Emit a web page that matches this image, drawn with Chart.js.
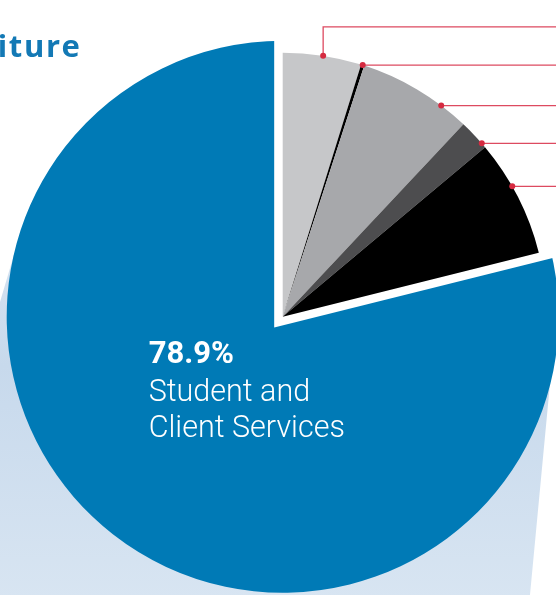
<!DOCTYPE html>
<html lang="en">
<head>
  <meta charset="UTF-8">
  <title>Expenditure</title>
  <script src="https://cdn.jsdelivr.net/npm/chart.js"></script>
  <style>
    html, body{margin: 0; padding: 0; width: 556px; height: 595px; overflow: hidden; background: #fff;}
    #wrap{position: absolute; left: 0; top: 0; width: 640px; height: 640px;}
    #title{position: absolute; right: 474.5px; top: 29.5px; z-index: 2; white-space: nowrap;
      font: 700 31px 'Open Sans', sans-serif; letter-spacing: 1.6px; line-height: 1; color: #1379b5;}
  </style>
</head>
<body>
  <div id="title">Expenditure</div>
  <div id="wrap"><canvas id="myChart"></canvas></div>
  <script>
    // slice order: clockwise from 12 o'clock
    const categories = ['Administration', 'Information Technology', 'Facilities', 'Amortization', 'Ancillary Services', 'Student and Client Services'];
    const values = [4.8, 0.2, 7.0, 1.9, 7.2, 78.9];
    const colors = ['#c6c7c9', '#000000', '#a7a8ab', '#4d4d4f', '#000000', '#007ab6'];
    const mainIdx = 5;

    function wrapWords(ctx, text, maxW){
      const words = text.split(' ');
      const lines = [];
      let cur = '';
      words.forEach(function(w){
        const test = cur ? cur + ' ' + w : w;
        if(cur && ctx.measureText(test).width > maxW){ lines.push(cur); cur = w; }
        else cur = test;
      });
      if(cur) lines.push(cur);
      return lines;
    }

    const pieDecor = {
      id: 'pieDecor',
      beforeDatasetsDraw(chart, args, opts){
        const meta = chart.getDatasetMeta(0);
        const main = meta.data[mainIdx];
        const cx = main.x, cy = main.y, R = main.outerRadius;
        // smaller slices sit a bit inside the big one
        meta.data.forEach(function(a, i){ if(i !== mainIdx) a.outerRadius = R * opts.minorScale; });

        // pale blue shadow behind the pie
        const ctx = chart.ctx;
        ctx.save();
        const g = ctx.createLinearGradient(0, cy - 0.25 * R, 0, chart.height);
        g.addColorStop(0, '#d6e3f1');
        g.addColorStop(0.3, '#c7d9ec');
        g.addColorStop(1, '#dbe7f3');
        ctx.fillStyle = g;
        ctx.beginPath();
        opts.shadow.forEach(function(p, k){
          const x = cx + p[0] * R, y = cy + p[1] * R;
          if(k) ctx.lineTo(x, y); else ctx.moveTo(x, y);
        });
        ctx.closePath();
        ctx.fill();
        ctx.restore();
      },
      afterDatasetsDraw(chart, args, opts){
        const ctx = chart.ctx;
        const meta = chart.getDatasetMeta(0);
        const main = meta.data[mainIdx];
        const minor = meta.data.filter(function(a, i){ return i !== mainIdx; });
        const cx = main.x, cy = main.y, R = main.outerRadius;

        // white gap between the big slice and the rest
        const a0 = minor[0].startAngle, a1 = minor[minor.length - 1].endAngle;
        const mid = (a0 + a1) / 2, half = (a1 - a0) / 2;
        const d = opts.gap / Math.sin(half);
        const ax = cx - Math.cos(mid) * d, ay = cy - Math.sin(mid) * d;
        ctx.save();
        ctx.fillStyle = '#fff';
        ctx.beginPath();
        ctx.moveTo(ax, ay);
        ctx.arc(ax, ay, R + 40, a0, a1);
        ctx.closePath();
        ctx.fill();
        ctx.restore();
        minor.forEach(function(a){ a.draw(ctx); });

        // leader lines (labels sit off to the right)
        ctx.save();
        ctx.strokeStyle = opts.lineColor;
        ctx.fillStyle = opts.dotColor;
        ctx.lineWidth = 1.3;
        minor.forEach(function(a, i){
          const t = a.startAngle + opts.anchors[i] * (a.endAngle - a.startAngle);
          const px = cx + Math.cos(t) * a.outerRadius;
          const py = cy + Math.sin(t) * a.outerRadius;
          ctx.beginPath();
          ctx.moveTo(px, py);
          if(i === 0){
            const ey = cy - R * opts.elbow;
            ctx.lineTo(px, ey);
            ctx.lineTo(chart.width, ey);
          } else {
            ctx.lineTo(chart.width, py);
          }
          ctx.stroke();
          ctx.beginPath();
          ctx.arc(px, py, 3, 0, Math.PI * 2);
          ctx.fill();
        });
        ctx.restore();

        // label inside the big slice
        ctx.save();
        ctx.fillStyle = '#fff';
        ctx.textAlign = 'left';
        ctx.textBaseline = 'alphabetic';
        const lx = cx + opts.labelDx, ly = cy + opts.labelDy;
        ctx.font = '700 31px Roboto';
        ctx.fillText(values[mainIdx].toFixed(1) + '%', lx, ly);
        ctx.font = '300 30.5px Roboto';
        wrapWords(ctx, categories[mainIdx], 210).forEach(function(line, k){
          ctx.fillText(line, lx, ly + 38 + k * 36);
        });
        ctx.restore();
      }
    };

    const ctx = document.getElementById('myChart');

    new Chart(ctx, {
      type: 'pie',
      data: {
        labels: categories,
        datasets: [{
          data: values,
          backgroundColor: colors,
          borderWidth: 0,
          hoverBorderWidth: 0,
          hoverOffset: 0
        }]
      },
      options: {
        responsive: true,
        maintainAspectRatio: false,
        animation: false,
        events: [],
        layout: {padding: {left: 6.7, top: 40.7, right: 81.3, bottom: 47.3}},
        plugins: {
          legend: {display: false},
          tooltip: {enabled: false},
          pieDecor: {
            minorScale: 264 / 276,
            gap: 8.5,
            anchors: [0.51, 0.5, 0.75, 0.84, 0.4],
            elbow: 1.05,
            lineColor: '#dd4a60',
            dotColor: '#d52a40',
            labelDx: -134,
            labelDy: 46,
            shadow: [[-0.974, -0.224], [-1.35, 1.05], [0.892, 1.05], [1.004, -0.133], [0, 0]]
          }
        }
      },
      plugins: [pieDecor]
    });//pie chart
  </script>
</body>
</html>
